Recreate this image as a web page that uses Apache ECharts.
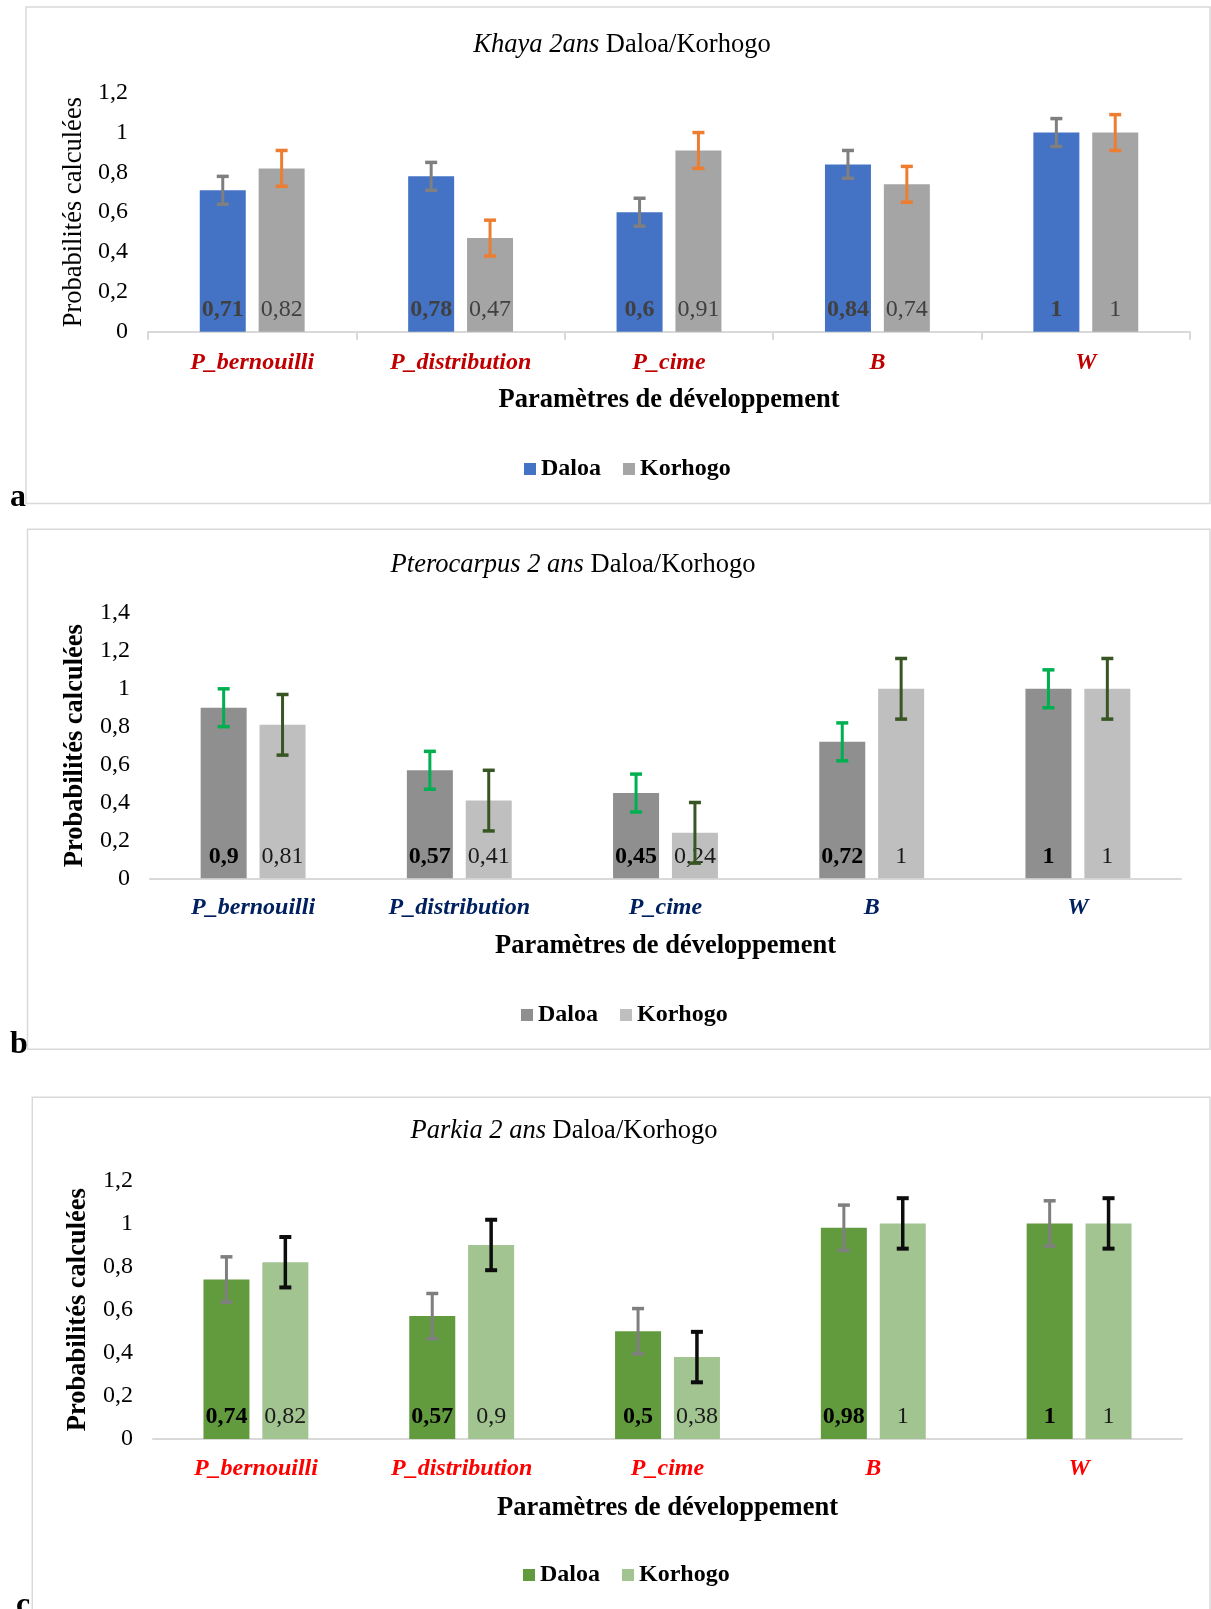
<!DOCTYPE html>
<html>
<head>
<meta charset="utf-8">
<script src="https://cdn.jsdelivr.net/npm/echarts@6/dist/echarts.min.js"></script>
<style>
html,body{margin:0;padding:0;background:#fff;}
#chart{width:1211px;height:1609px;}
</style>
</head>
<body>
<div id="chart"></div>
<script>
// ---------- data ----------
const categories = ['P_bernouilli', 'P_distribution', 'P_cime', 'B', 'W'];
const seriesNames = ['Daloa', 'Korhogo'];

const khayaDaloa = [0.71, 0.78, 0.6, 0.84, 1];
const khayaKorhogo = [0.82, 0.47, 0.91, 0.74, 1];
const khayaDaloaErr = [0.07, 0.07, 0.07, 0.07, 0.07];
const khayaKorhogoErr = [0.09, 0.09, 0.09, 0.09, 0.09];

const pteroDaloa = [0.9, 0.57, 0.45, 0.72, 1];
const pteroKorhogo = [0.81, 0.41, 0.24, 1, 1];
const pteroDaloaErr = [0.1, 0.1, 0.1, 0.1, 0.1];
const pteroKorhogoErr = [0.16, 0.16, 0.16, 0.16, 0.16];

const parkiaDaloa = [0.74, 0.57, 0.5, 0.98, 1];
const parkiaKorhogo = [0.82, 0.9, 0.38, 1, 1];
const parkiaDaloaErr = [0.105, 0.105, 0.105, 0.105, 0.105];
const parkiaKorhogoErr = [0.117, 0.117, 0.117, 0.117, 0.117];

const titleItalic = ['Khaya 2ans', 'Pterocarpus 2 ans', 'Parkia 2 ans'];
const titleRest = ' Daloa/Korhogo';
const yAxisName = 'Probabilités calculées';
const xAxisName = 'Paramètres de développement';
const panelLetters = ['a', 'b', 'c'];

// ---------- styling / layout ----------
const FF = "'Liberation Serif','Times New Roman',serif";
const panels = [
  { key: 'a', grid: {left: 148, top: 92.7, width: 1042, height: 239}, yMax: 1.2,
    daloa: khayaDaloa, korhogo: khayaKorhogo, dErr: khayaDaloaErr, kErr: khayaKorhogoErr,
    cDaloa: '#4472C4', cKorhogo: '#A5A5A5', eDaloa: '#7F7F7F', eKorhogo: '#ED7D31',
    lDaloa: '#404040', lKorhogo: '#404040', catColor: '#C00000', yNameBold: false,
    ticks: true, catMargin: 19, xGap: 55,
    title: [622, 45], legend: [524, 457],
    border: [26, 7, 1184, 496.5], letter: [10, 497.5] },
  { key: 'b', grid: {left: 150, top: 613, width: 1031, height: 265.3}, yMax: 1.4,
    daloa: pteroDaloa, korhogo: pteroKorhogo, dErr: pteroDaloaErr, kErr: pteroKorhogoErr,
    cDaloa: '#8F8F8F', cKorhogo: '#BFBFBF', eDaloa: '#00B050', eKorhogo: '#375623',
    lDaloa: '#000000', lKorhogo: '#1a1a1a', catColor: '#002060', yNameBold: true,
    ticks: false, catMargin: 17, xGap: 54.5,
    title: [573, 565], legend: [521, 1003],
    border: [27.5, 529.3, 1182.5, 520], letter: [10, 1044.5] },
  { key: 'c', grid: {left: 153, top: 1180.3, width: 1029, height: 258.7}, yMax: 1.2,
    daloa: parkiaDaloa, korhogo: parkiaKorhogo, dErr: parkiaDaloaErr, kErr: parkiaKorhogoErr,
    cDaloa: '#629A3E', cKorhogo: '#A2C490', eDaloa: '#7F7F7F', eKorhogo: '#0D0D0D',
    lDaloa: '#000000', lKorhogo: '#1a1a1a', catColor: '#FF0000', yNameBold: true,
    ticks: false, catMargin: 18, xGap: 55.5,
    title: [564, 1131], legend: [523, 1563],
    border: [32.3, 1097.3, 1177.7, 560], letter: [16, 1605.5] }
];

const BAR_W = 46;
const BAR_GAP = 0.28;
const OFFSET = (BAR_W + BAR_W * BAR_GAP) / 2;

function errRender(offset, color, lw) {
  return function (params, api) {
    const i = api.value(0), v = api.value(1), e = api.value(2);
    const x = api.coord([i, v])[0] + offset;
    const yT = api.coord([i, v + e])[1];
    const yB = api.coord([i, v - e])[1];
    const hw = 6;
    const style = { stroke: color, lineWidth: lw };
    return {
      type: 'group',
      children: [
        { type: 'line', shape: { x1: x, y1: yT, x2: x, y2: yB }, style: style },
        { type: 'line', shape: { x1: x - hw, y1: yT, x2: x + hw, y2: yT }, style: Object.assign({}, style, {lineWidth: lw + 0.5}) },
        { type: 'line', shape: { x1: x - hw, y1: yB, x2: x + hw, y2: yB }, style: Object.assign({}, style, {lineWidth: lw + 0.5}) }
      ]
    };
  };
}

const fmtComma = v => String(+Number(v).toFixed(2)).replace('.', ',');

const grids = [], xAxes = [], yAxes = [], series = [], legends = [], graphics = [];

panels.forEach((p, idx) => {
  grids.push(Object.assign({ containLabel: false }, p.grid));
  xAxes.push({
    type: 'category', gridIndex: idx, data: categories,
    axisLine: { show: true, lineStyle: { color: '#D9D9D9', width: 2 } },
    axisTick: { show: p.ticks, length: 8, lineStyle: { color: '#D9D9D9', width: 2 } },
    axisLabel: { color: p.catColor, fontFamily: FF, fontSize: 24, fontWeight: 'bold', fontStyle: 'italic', margin: p.catMargin, interval: 0 },
    name: xAxisName, nameLocation: 'middle', nameGap: p.xGap,
    nameTextStyle: { fontFamily: FF, fontSize: 26.5, fontWeight: 'bold', color: '#000' }
  });
  yAxes.push({
    type: 'value', gridIndex: idx, min: 0, max: p.yMax, interval: 0.2,
    axisLine: { show: false }, axisTick: { show: false }, splitLine: { show: false },
    axisLabel: { fontFamily: FF, fontSize: 24, color: '#000', margin: 20, formatter: fmtComma },
    name: yAxisName, nameLocation: 'middle', nameRotate: 90, nameGap: 48,
    nameTextStyle: { fontFamily: FF, fontSize: 26.5, fontWeight: p.yNameBold ? 'bold' : 'normal', color: '#000' }
  });
  const mkBar = (name, data, color, lColor, bold) => ({
    type: 'bar', name: name + '_' + p.key, xAxisIndex: idx, yAxisIndex: idx,
    data: data, barWidth: BAR_W, barGap: (BAR_GAP * 100) + '%',
    itemStyle: { color: color },
    label: { show: true, position: 'insideBottom', distance: 10, formatter: q => fmtComma(q.value),
      fontFamily: FF, fontSize: 24, fontWeight: bold ? 'bold' : 'normal', color: lColor },
    emphasis: { disabled: true }, animation: false
  });
  series.push(mkBar('Daloa', p.daloa, p.cDaloa, p.lDaloa, true));
  series.push(mkBar('Korhogo', p.korhogo, p.cKorhogo, p.lKorhogo, false));
  series.push({
    type: 'custom', name: 'errD_' + p.key, xAxisIndex: idx, yAxisIndex: idx, z: 5,
    renderItem: errRender(-OFFSET, p.eDaloa, 3),
    encode: { x: 0, y: 1 },
    data: categories.map((c, i) => [i, p.daloa[i], p.dErr[i]]), animation: false
  });
  series.push({
    type: 'custom', name: 'errK_' + p.key, xAxisIndex: idx, yAxisIndex: idx, z: 5,
    renderItem: errRender(OFFSET, p.eKorhogo, p.key === 'c' ? 3.5 : 3),
    encode: { x: 0, y: 1 },
    data: categories.map((c, i) => [i, p.korhogo[i], p.kErr[i]]), animation: false
  });
  legends.push({
    left: p.legend[0], top: p.legend[1], orient: 'horizontal', icon: 'rect', padding: 0,
    itemWidth: 12, itemHeight: 12, itemGap: 22, selectedMode: false,
    data: seriesNames.map(n => n + '_' + p.key),
    formatter: n => n.split('_')[0],
    textStyle: { fontFamily: FF, fontSize: 24, fontWeight: 'bold', color: '#000' }
  });
  graphics.push({
    type: 'rect', silent: true, z: -10,
    shape: { x: p.border[0], y: p.border[1], width: p.border[2], height: p.border[3] },
    style: { fill: null, stroke: '#D9D9D9', lineWidth: 1.5 }
  });
  graphics.push({
    type: 'text', silent: true,
    style: {
      x: p.title[0], y: p.title[1], align: 'center', verticalAlign: 'middle',
      text: '{i|' + titleItalic[idx] + '}{n|' + titleRest + '}',
      rich: {
        i: { fontFamily: FF, fontSize: 26.5, fontStyle: 'italic', fill: '#000' },
        n: { fontFamily: FF, fontSize: 26.5, fill: '#000' }
      }
    }
  });
  graphics.push({
    type: 'text', silent: true,
    style: { x: p.letter[0], y: p.letter[1], text: panelLetters[idx], verticalAlign: 'middle',
      font: 'bold 32px ' + FF, fill: '#000' }
  });
});

const chart = echarts.init(document.getElementById('chart'), null, { renderer: 'canvas' });
chart.setOption({
  backgroundColor: '#fff',
  animation: false,
  grid: grids, xAxis: xAxes, yAxis: yAxes, series: series, legend: legends,
  graphic: graphics
});
</script>
</body>
</html>
